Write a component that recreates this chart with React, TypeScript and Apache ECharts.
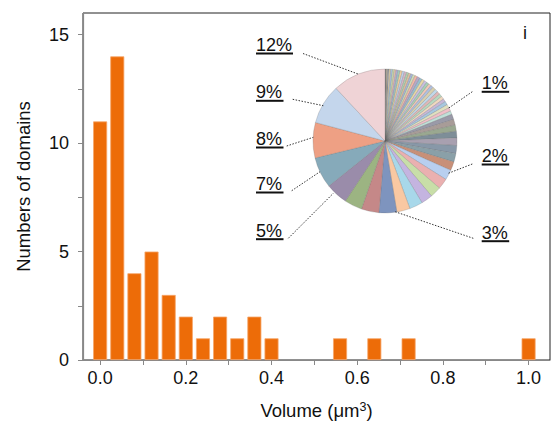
import React, { useEffect, useRef } from "react";
import * as echarts from "echarts";

// Histogram data
const binCenters = [0, 0.04, 0.08, 0.12, 0.16, 0.2, 0.24, 0.28, 0.32, 0.36, 0.4, 0.56, 0.64, 0.72, 1.0];
const binCounts = [11, 14, 4, 5, 3, 2, 1, 2, 1, 2, 1, 1, 1, 1, 1];

const xTickValues = [0, 0.1, 0.2, 0.3, 0.4, 0.5, 0.6, 0.7, 0.8, 0.9, 1.0];
const xLabelValues = [0, 0.2, 0.4, 0.6, 0.8, 1.0];
const yTickValues = [0, 2.5, 5, 7.5, 10, 12.5, 15];
const yLabelValues = [0, 5, 10, 15];

// Pie (volume share per domain, clockwise from top, ascending)
const pieValues = [
  0.3, 0.3, 0.3, 0.4, 0.4, 0.4, 0.4, 0.4, 0.5, 0.5, 0.5, 0.5, 0.5, 0.5, 0.5, 0.5,
  0.6, 0.6, 0.6, 0.6, 0.6, 0.6, 0.6, 0.6, 0.7, 0.7, 0.7, 0.7, 0.7, 0.7, 0.8, 0.8, 0.8, 0.8,
  1.2, 1.3, 1.4, 1.5, 1.7, 1.8,
  1.9, 2.0,
  2.3, 2.4, 2.5, 2.6, 3.0, 3.0,
  4, 4, 4, 5, 7, 8, 9, 12,
];
const pieColors = [
  "#8a8a8a", "#b0a48e", "#9aa0a8", "#d9c9a8", "#a9c4e0", "#c9dcb0", "#e8c4b0", "#b8b0d8",
  "#a0c8c0", "#f0d0a0", "#c0d0e8", "#d8b8c8", "#b0d0b0", "#e0c0a0", "#a8b8d8", "#d0e0b8",
  "#f0b8a8", "#b8a8c8", "#98c0d0", "#e8d8a8", "#c8c0e0", "#a8d0b8", "#f0c8b8", "#b0c0e0",
  "#d8d0b0", "#c0d8e8", "#e0b8b8", "#b8d8c0", "#f0d8c0", "#c8b8d8", "#a8c8e0", "#e0e0c0",
  "#f0c0c8", "#c0e0d8",
  "#9a9aa8", "#a89c98", "#9aa890", "#7e8e98", "#a8a0b0", "#8898a8",
  "#8aa0a8", "#c89078",
  "#b8cfef", "#eab0b0", "#c8dea8", "#c4b4e0", "#a8d8ea", "#f9c8a2",
  "#7e94be", "#c58888", "#9cb482", "#9a8caa", "#86aaba", "#eea084", "#c4d6ec", "#efd3d6",
];

const pieLabels = [
  { text: "12%", x: 256, y: 45, ux: 37, from: [303, 53.5], to: [358, 74] },
  { text: "9%", x: 256, y: 92.3, ux: 27.5, from: [292.7, 99.3], to: [323.3, 105.7] },
  { text: "8%", x: 256, y: 139, ux: 27.5, from: [286.7, 146], to: [313.3, 137.3] },
  { text: "7%", x: 256, y: 184, ux: 27.5, from: [291.7, 190.7], to: [320, 171.7] },
  { text: "5%", x: 256, y: 230.7, ux: 27.5, from: [288.3, 238.3], to: [333.3, 193.3] },
  { text: "1%", x: 481.7, y: 83.3, ux: 27.5, from: [472.3, 91.7], to: [448.3, 108.3] },
  { text: "2%", x: 481.7, y: 156, ux: 27.5, from: [472.3, 164], to: [448.3, 173.3] },
  { text: "3%", x: 481.7, y: 232.7, ux: 27.5, from: [473.3, 238.3], to: [395, 211.7] },
];

const FONT = "'Liberation Sans', Arial, Helvetica, sans-serif";

export default function App() {
  const ref = useRef<HTMLDivElement>(null);

  useEffect(() => {
    if (!ref.current) return;
    const chart = echarts.init(ref.current, undefined, { renderer: "svg" });

    const graphics: any[] = [];
    pieLabels.forEach((l) => {
      graphics.push({
        type: "line",
        shape: { x1: l.from[0], y1: l.from[1], x2: l.to[0], y2: l.to[1] },
        style: { stroke: "#333", lineWidth: 1, lineDash: [1.5, 1.5] },
        silent: true,
        z: 10,
      });
      graphics.push({
        type: "text",
        x: l.x,
        y: l.y,
        style: {
          text: l.text,
          fill: "#111",
          font: `18px ${FONT}`,
          textAlign: "left",
          verticalAlign: "middle",
        },
        z: 10,
      });
      graphics.push({
        type: "rect",
        shape: { x: l.x, y: l.y + 7.5, width: l.ux, height: 2 },
        style: { fill: "#111" },
        z: 10,
      });
    });
    graphics.push({
      type: "text",
      x: 525,
      y: 33.3,
      style: {
        text: "i",
        fill: "#111",
        font: `18px ${FONT}`,
        textAlign: "center",
        verticalAlign: "middle",
      },
      z: 10,
    });

    chart.setOption({
      animation: false,
      backgroundColor: "#ffffff",
      textStyle: { fontFamily: FONT },
      grid: {
        left: 83,
        top: 13,
        right: 9,
        bottom: 70,
        containLabel: false,
        outerBoundsMode: "none",
        show: true,
        borderColor: "#222",
        borderWidth: 1,
        backgroundColor: "transparent",
      },
      xAxis: {
        type: "value",
        min: -0.04,
        max: 1.05,
        name: "Volume (μm{sup|3})",
        nameLocation: "middle",
        nameGap: 40,
        nameTextStyle: {
          fontSize: 18.5,
          color: "#111",
          fontFamily: FONT,
          rich: {
            sup: { fontSize: 12.5, color: "#111", fontFamily: FONT, verticalAlign: "top", padding: [0, 0, 7, 0] },
          },
        },
        axisLine: { show: true, onZero: false, lineStyle: { color: "#888", width: 1.2 } },
        axisTick: {
          show: true,
          length: 5,
          customValues: xTickValues,
          lineStyle: { color: "#888", width: 1 },
        },
        axisLabel: {
          customValues: xLabelValues,
          formatter: (v: number) => v.toFixed(1),
          fontSize: 18,
          color: "#111",
          margin: 9,
          fontFamily: FONT,
        },
        splitLine: { show: false },
      },
      yAxis: {
        type: "value",
        min: 0,
        max: 16,
        name: "Numbers of domains",
        nameLocation: "middle",
        nameGap: 50,
        nameTextStyle: { fontSize: 18.5, color: "#111", fontFamily: FONT },
        axisLine: { show: true, onZero: false, lineStyle: { color: "#888", width: 1.2 } },
        axisTick: {
          show: true,
          length: 5,
          customValues: yTickValues,
          lineStyle: { color: "#888", width: 1 },
        },
        axisLabel: {
          customValues: yLabelValues,
          fontSize: 18,
          color: "#111",
          margin: 14,
          fontFamily: FONT,
        },
        splitLine: { show: false },
      },
      series: [
        {
          type: "bar",
          data: binCenters.map((x, i) => [x, binCounts[i]]),
          barWidth: 14,
          itemStyle: { color: "#ED6C08", borderColor: "#F6A66A", borderWidth: 0.8 },
          z: 2,
        },
        {
          type: "pie",
          center: [385, 141],
          radius: 72,
          startAngle: 90,
          clockwise: true,
          label: { show: false },
          labelLine: { show: false },
          silent: true,
          data: pieValues.map((v, i) => ({ value: v, itemStyle: { color: pieColors[i] } })),
          itemStyle: { borderColor: "rgba(90,90,90,0.35)", borderWidth: 0.6 },
          z: 5,
        },
      ],
      graphic: graphics,
    });

    return () => chart.dispose();
  }, []);

  return (
    <div
      ref={ref}
      style={{ position: "fixed", left: 0, top: 0, width: 559, height: 430 }}
    />
  );
}
